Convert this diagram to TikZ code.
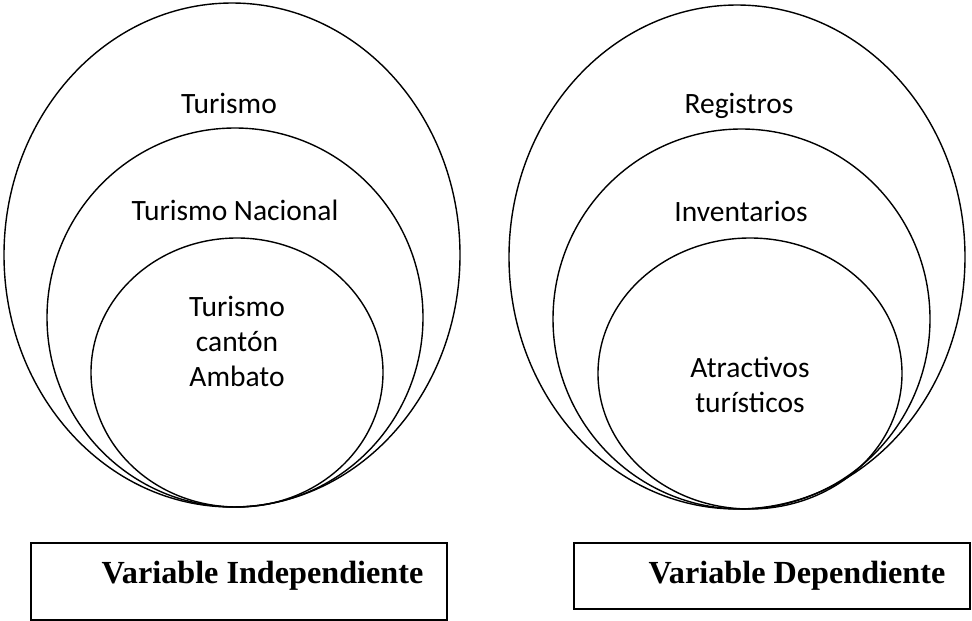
\documentclass[tikz,border=0pt]{standalone}
\usepackage{fontspec}
\setmainfont{Liberation Serif}
\newfontfamily\calibri{Carlito}
\usetikzlibrary{shapes.geometric}

\begin{document}
\begin{tikzpicture}[x=1pt, y=-1pt, line width=1.4pt,
        conjunto/.style={draw, ellipse, inner sep=0pt},
        etiqueta/.style={font=\calibri\fontsize{29.5}{35}\selectfont, align=center},
        caja/.style={draw, rectangle, inner sep=0pt, line width=1.2pt},
        titulo/.style={font=\bfseries\fontsize{32.2}{38}\selectfont, anchor=base}]
        \useasboundingbox (0, 0) rectangle (972, 621);
        % variable independiente
        \node[conjunto, minimum width=456pt, minimum height=504pt] (turismo) at (232, 255) {};
        \node[conjunto, minimum width=376pt, minimum height=379pt] (nacional) at (235, 317.5) {};
        \node[conjunto, minimum width=292pt, minimum height=269pt] (canton) at (237, 372.5) {};
        \node[etiqueta, anchor=base] (lturismo) at (229, 113) {Turismo};
        \node[etiqueta, anchor=base] (lnacional) at (235, 220) {Turismo Nacional};
        \node[etiqueta] (lcanton) at (237, 341) {Turismo\\cantón\\Ambato};
        % variable dependiente
        \node[conjunto, minimum width=456pt, minimum height=504pt] (registros) at (737, 257) {};
        \node[conjunto, minimum width=377pt, minimum height=380pt] (inventarios) at (741.5, 319) {};
        \node[conjunto, minimum width=304pt, minimum height=271pt] (atractivos) at (750, 373.5) {};
        \node[etiqueta, anchor=base] (lregistros) at (739, 113) {Registros};
        \node[etiqueta, anchor=base] (linventarios) at (741, 221) {Inventarios};
        \node[etiqueta] (latractivos) at (750, 385) {Atractivos\\turísticos};
        % cuadros de titulo
        \node[caja, minimum width=416pt, minimum height=77pt] (cajaind) at (239, 581.5) {};
        \node[caja, minimum width=396pt, minimum height=66pt] (cajadep) at (772, 576) {};
        \node[titulo] (tind) at (262.5, 583) {Variable Independiente};
        \node[titulo] (tdep) at (797, 583) {Variable Dependiente};
    \end{tikzpicture}
\end{document}
